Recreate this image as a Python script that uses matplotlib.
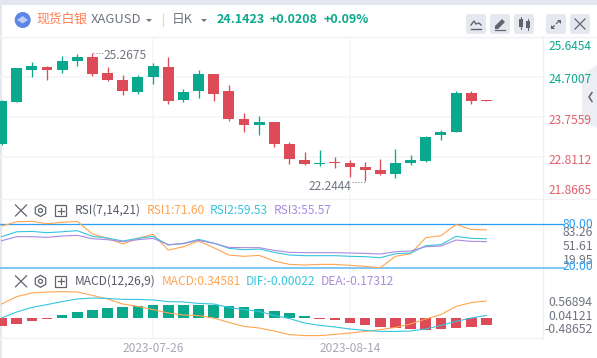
import matplotlib
matplotlib.use("Agg")
import matplotlib.pyplot as plt
from matplotlib.patches import Rectangle, FancyBboxPatch, Circle, Polygon, RegularPolygon

plt.rcParams['font.family'] = ['Noto Sans CJK SC', 'DejaVu Sans']

# ---------- data ----------
opens = [23.13,24.12,24.87,24.94,24.87,25.09,25.18,24.80,24.64,24.35,24.71,24.94,24.17,24.38,24.78,24.38,23.72,
         23.57,23.65,23.13,22.75,22.65,22.70,22.68,22.58,22.51,22.42,22.68,22.73,23.34,23.41,24.33,24.16]
closes = [24.14,24.92,24.97,24.87,25.09,25.18,24.78,24.64,24.38,24.71,24.97,24.14,24.35,24.78,24.31,23.72,23.57,
          23.65,23.13,22.77,22.65,22.68,22.68,22.58,22.51,22.42,22.68,22.75,23.29,23.41,24.33,24.14,24.1423]
highs = [24.16,24.92,25.06,24.97,25.20,25.25,25.2675,24.94,24.76,24.76,25.04,25.18,24.42,24.87,24.78,24.52,23.86,
         23.79,23.65,23.17,22.94,22.98,22.82,22.75,22.70,22.77,23.01,22.87,23.31,23.46,24.38,24.38,24.16]
lows = [23.10,24.12,24.71,24.64,24.80,24.97,24.73,24.61,24.28,24.31,24.54,24.07,24.12,24.21,24.14,23.68,23.41,
        23.34,23.05,22.65,22.63,22.61,22.56,22.35,22.2444,22.39,22.32,22.63,22.70,23.22,23.41,24.07,24.1423]
rsi1 = [76.8,82.6,83.26,80,81.8,83.2,65.9,60,52.3,60,65.5,44,48.6,56.4,47.3,37.3,35.5,36.8,29,24.5,23.6,24.5,
        24.5,23.2,21.8,19.95,35.5,39,61,63.6,79,72.3,71.6]
rsi2 = [62.3,69,69.5,67.7,69,70.5,62.7,60.5,56.4,60,62.7,50.9,53.2,58.6,53.6,46.4,44.5,45.5,40.9,37.3,36.4,36.4,
        36.4,35.5,35,33.6,39,40,50,51.4,62.7,60,59.53]
rsi3 = [56.8,62.3,62.3,61.4,63.2,64.1,59.5,58.2,55.5,58.2,60,51.4,52.7,57.3,53.2,47.7,47.3,47.3,43.6,40.9,40.5,
        40.5,40.5,40,39.5,38.6,41.8,42.7,48.6,49.5,57.7,55.9,55.57]
macd_orange = [.70,1.07,1.25,1.30,1.32,1.30,1.13,.95,.70,.58,.42,.25,.15,.12,0,-.22,-.42,-.50,-.65,-.83,-.88,-.88,
               -.82,-.75,-.67,-.58,-.47,-.30,-.05,.17,.58,.77,.85]
macd_cyan = [0,.30,.53,.67,.82,.95,1.0,.98,.93,.93,.90,.82,.80,.73,.70,.53,.42,.33,.13,-.03,-.25,-.37,-.45,-.55,
             -.62,-.67,-.67,-.65,-.55,-.37,-.17,0,.13]
macd_hist = [-.38,-.30,-.15,-.05,.15,.30,.40,.50,.55,.60,.65,.65,.65,.65,.65,.60,.55,.45,.35,.25,.10,-.05,-.10,
             -.25,-.35,-.45,-.50,-.55,-.60,-.55,-.50,-.45,-.35]
price_ticks = [25.6454, 24.7007, 23.7559, 22.8112, 21.8665]
date_labels = ["2023-07-26", "2023-08-14"]
date_idx = [10, 23]

# ---------- styles ----------
W, H = 597, 358
GREEN, RED = '#0aa88c', '#dd4b58'
ORANGE, CYAN, PURPLE = '#ffa552', '#35c5dd', '#a98be0'
GRID, GREY, LGREY, BTN = '#f4f5f8', '#6f7480', '#a6a9b5', '#e6e8f0'
BLUE = '#2a9df4'
FS = 8.6

fig = plt.figure(figsize=(W / 100, H / 100), dpi=100, facecolor='white')

def box(top, bottom, left=0, right=542.7):
    return [left / W, 1 - bottom / H, (right - left) / W, (bottom - top) / H]

bg = fig.add_axes([0, 0, 1, 1], zorder=0)
bg.set_xlim(0, W); bg.set_ylim(H, 0); bg.axis('off')
over = fig.add_axes([0, 0, 1, 1], zorder=5)
over.set_xlim(0, W); over.set_ylim(H, 0); over.axis('off'); over.patch.set_alpha(0)

XLIM = (-0.1056, 35.72)
xs = list(range(len(opens)))

def panel(top, bottom, ylim):
    ax = fig.add_axes(box(top, bottom), zorder=2)
    ax.patch.set_alpha(0)
    ax.set_xlim(*XLIM); ax.set_ylim(*ylim)
    ax.set_xticks(date_idx)
    ax.tick_params(length=0, labelbottom=False, labelleft=False)
    ax.set_yticks([])
    for s in ax.spines.values():
        s.set_visible(False)
    ax.grid(True, axis='x', color=GRID, lw=1.1, zorder=0)
    ax.set_axisbelow(True)
    return ax

# ---------- chrome background ----------
bg.add_patch(Rectangle((0, 0), W, 5, color='#e3e6ef', lw=0))
bg.add_patch(Rectangle((0, 0), 1.5, H, color='#e6e8f0', lw=0))
for y, x1 in [(36.5, 597), (199, 597), (338, 543)]:
    bg.plot([0, x1], [y, y], color='#f1f2f6', lw=1)
bg.plot([542.7, 542.7], [36, 338], color='#eff0f4', lw=1)

# ---------- price panel ----------
ax = panel(37, 199, (21.8264, 25.6525))
ax.set_yticks(price_ticks[1:4])
ax.grid(True, axis='y', color=GRID, lw=1.1, zorder=0)
cols = [GREEN if c >= o else RED for o, c in zip(opens, closes)]
ax.vlines(xs, lows, highs, colors=cols, lw=0.95, zorder=3)
ax.bar(xs, [max(abs(c - o), 0.012) for o, c in zip(opens, closes)],
       bottom=[min(o, c) for o, c in zip(opens, closes)], width=0.72, color=cols, lw=0, zorder=4)

# ---------- RSI panel ----------
rx = panel(199, 269, (18.2, 113.7))
rx.axhline(80, xmax=1.0387, color=BLUE, lw=0.9, clip_on=False)
rx.axhline(20, xmax=1.0387, color='#5cb8f5', lw=1.1, clip_on=False)
rx.plot(xs, rsi1, color=ORANGE, lw=0.8)
rx.plot(xs, rsi2, color=CYAN, lw=0.8)
rx.plot(xs, rsi3, color=PURPLE, lw=0.8)

# ---------- MACD panel ----------
mx = panel(269, 338, (-1.0, 2.45))
mx.bar(xs, macd_hist, width=0.70, color=[GREEN if v > 0 else RED for v in macd_hist], lw=0, zorder=3)
mx.plot(xs, macd_orange, color=ORANGE, lw=0.8, zorder=4)
mx.plot(xs, macd_cyan, color=CYAN, lw=0.8, zorder=4)

# ---------- text ----------
def T(x, y, s, c=GREY, ha='left', fs=FS, **k):
    over.text(x, y, s, color=c, ha=ha, va='center', fontsize=fs, **k)

# header
over.add_patch(Circle((22.7, 20), 8, color='#5b86e5', lw=0))
over.add_patch(Polygon([(17, 20), (22.7, 16), (28, 20), (22.7, 23.5)], color='#b9cdf5', lw=0))
T(36, 19.5, "现货白银", '#ff7d52', fs=9.2)
T(91, 19.5, "XAGUSD", GREY, fs=9.4)
over.add_patch(Polygon([(146, 19), (152, 19), (149, 22)], color=GREY, lw=0))
over.plot([162.5, 162.5], [14, 26], color='#d5d8e0', lw=0.8)
T(172, 19.5, "日K", GREY, fs=9.2)
over.add_patch(Polygon([(201, 19), (207, 19), (204, 22)], color=GREY, lw=0))
T(217, 19.5, "24.1423", GREEN, fs=9, fontweight='bold')
T(270, 19.5, "+0.0208", GREEN, fs=9, fontweight='bold')
T(323, 19.5, "+0.09%", GREEN, fs=9, fontweight='bold')

# buttons
for x0 in [466, 490, 514, 546, 570]:
    over.add_patch(FancyBboxPatch((x0 + 2, 16), 16, 16, boxstyle="round,pad=2,rounding_size=3", color=BTN, lw=0))
D = '#60646f'
over.plot([471, 481], [29, 29], color=D, lw=1)
over.plot([471, 474, 476, 479, 481], [25, 21, 24, 23, 25], color=D, lw=1)
over.add_patch(Polygon([(495, 29), (495, 26), (502, 19), (505, 22), (498, 29)], color=D, lw=0))
over.plot([495, 505], [29.5, 29.5], color=D, lw=0.9)
over.add_patch(Rectangle((519, 19), 4, 8, color=D, lw=0))
over.add_patch(Rectangle((526, 21), 4, 7, color=D, lw=0))
over.plot([521, 521], [17, 29], color=D, lw=0.7)
over.plot([528, 528], [19, 30], color=D, lw=0.7)
over.plot([552, 560], [28, 20], color=D, lw=0.9, ls=(0, (3, 1.6)))
over.add_patch(Polygon([(557, 20), (561, 20), (561, 24)], color=D, lw=0))
over.add_patch(Polygon([(551, 25), (551, 29), (555, 29)], color=D, lw=0))
over.plot([575, 585], [19, 29], color=D, lw=0.9)
over.plot([575, 585], [29, 19], color=D, lw=0.9)

# price axis labels
for y, v, c in zip([46, 79.3, 120.7, 160.7, 190], price_ticks, [GREEN, GREEN, '#e0606c', '#e0606c', '#e0606c']):
    T(591.3, y, f"{v:.4f}", c, ha='right')

# flap
over.add_patch(Polygon([(597, 65), (582, 75), (582, 122), (597, 128)], color='#e9ebf2', alpha=0.85, lw=0))
over.plot([592, 589, 592], [92.5, 97, 101.5], color=D, lw=1.1)

# extremes
T(104, 55.6, f"{max(highs):.4f}", GREY)
over.plot([93, 104], [52.5, 52.5], color=GREY, lw=0.7, ls=(0, (1, 2)))
T(309, 186, f"{min(lows):.4f}", GREY)
over.plot([352, 365], [181.5, 181.5], color=GREY, lw=0.7, ls=(0, (1, 2)))

# panel rows
for yc, title, items in [
    (210.5, "RSI(7,14,21)", [(147, "RSI1:71.60", ORANGE), (210, "RSI2:59.53", CYAN), (274, "RSI3:55.57", PURPLE)]),
    (281.3, "MACD(12,26,9)", [(162, "MACD:0.34581", ORANGE), (246, "DIF:-0.00022", CYAN), (321, "DEA:-0.17312", PURPLE)]),
]:
    over.plot([15.5, 26.5], [yc - 5.5, yc + 5.5], color=D, lw=0.9)
    over.plot([15.5, 26.5], [yc + 5.5, yc - 5.5], color=D, lw=0.9)
    over.add_patch(RegularPolygon((40.5, yc), 6, radius=6, fill=False, ec=D, lw=0.9))
    over.add_patch(Circle((40.5, yc), 2, fill=False, ec=D, lw=0.9))
    over.add_patch(Rectangle((55, yc - 5.5), 11, 11, fill=False, ec=D, lw=0.9))
    over.plot([57.5, 63.5], [yc, yc], color=D, lw=0.9)
    over.plot([60.5, 60.5], [yc - 3, yc + 3], color=D, lw=0.9)
    T(75, yc, title, '#555a66')
    for x, s, c in items:
        T(x, yc, s, c)

# RSI axis labels
T(593, 224, "80.00", BLUE, ha='right', fs=8.8)
T(593, 232.7, "83.26", GREY, ha='right', fs=8.8)
T(593, 246.7, "51.61", GREY, ha='right', fs=8.8)
T(593, 260.7, "19.95", GREY, ha='right', fs=8.8)
T(593, 266.7, "20.00", BLUE, ha='right', fs=8.8)
over.add_patch(Rectangle((545, 269), 52, 6, color='white', lw=0))

# MACD axis labels
T(592.3, 303, "0.56894", GREY, ha='right', fs=8.8)
T(592.3, 317, "0.04121", GREY, ha='right', fs=8.8)
T(592.3, 329.7, "-0.48652", GREY, ha='right', fs=8.8)

# dates
for i, s in zip(date_idx, date_labels):
    over.text(1.6 + 15.15 * i, 348, s, color=LGREY, ha='center', va='center', fontsize=FS)

fig.savefig("out.png", dpi=100)
